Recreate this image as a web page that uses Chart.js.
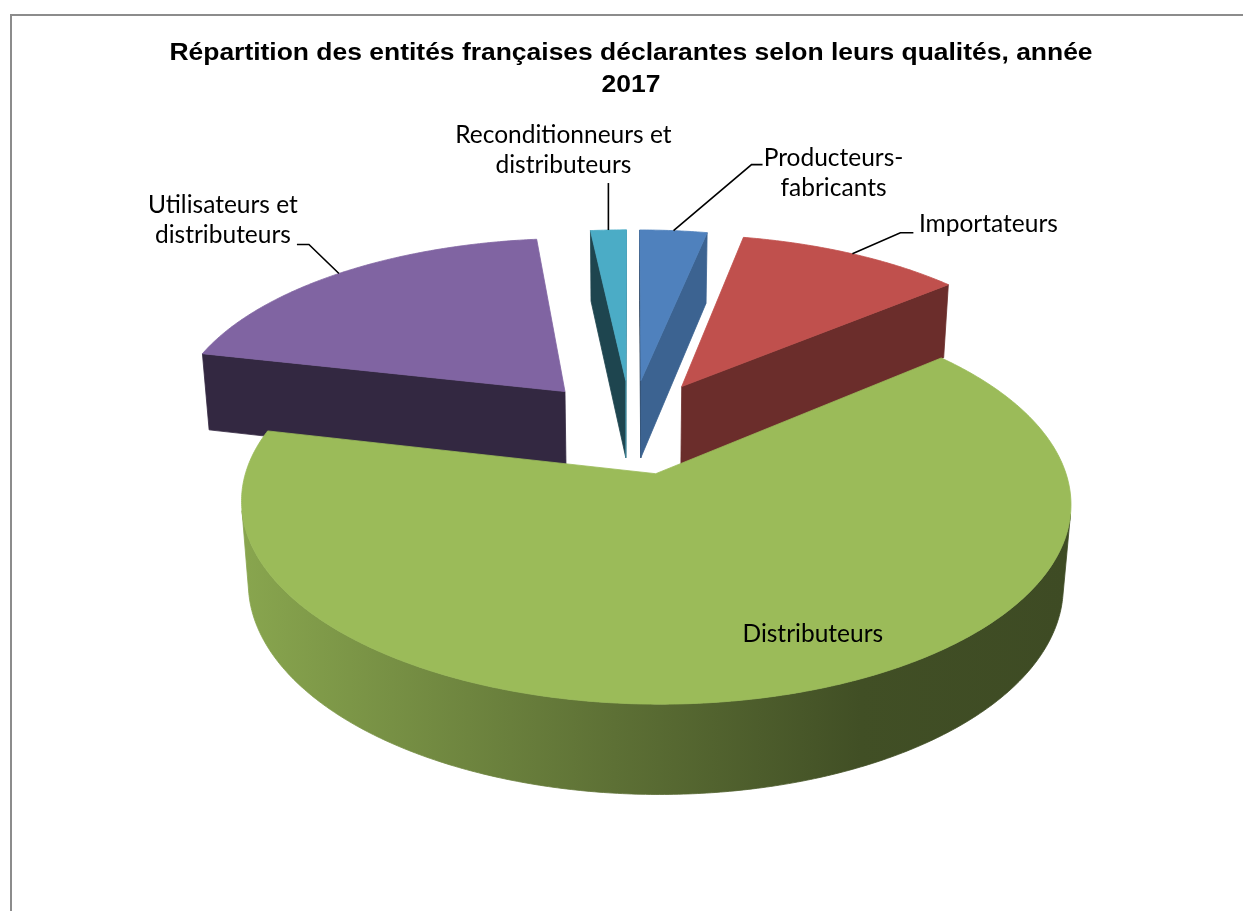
<!DOCTYPE html>
<html lang="fr">
<head>
<meta charset="utf-8">
<script src="https://cdn.jsdelivr.net/npm/chart.js@4.4.1/dist/chart.umd.min.js"></script>
<style>
  html, body { margin: 0; padding: 0; background: #fff; overflow: hidden; }
  #cadre { position: absolute; left: 10px; top: 14px; width: 1260px; height: 920px;
           border-left: 2px solid #8c8c8c; border-top: 2px solid #8c8c8c; }
  #c { position: absolute; left: 0; top: 0; }
</style>
</head>
<body>
<div id="cadre"></div>
<canvas id="c" width="1243" height="911"></canvas>
<script>
// ── Données ──────────────────────────────────────────────────────────
const CATEGORIES = [
  "Producteurs-fabricants",
  "Importateurs",
  "Distributeurs",
  "Utilisateurs et distributeurs",
  "Reconditionneurs et distributeurs",
];
const PARTS = [3.2, 10.7, 64.7, 19.7, 1.7];
const TITRE = [
  "Répartition des entités françaises déclarantes selon leurs qualités, année",
  "2017",
];
const ETIQUETTES = [
  ["Producteurs-", "fabricants"],
  ["Importateurs"],
  ["Distributeurs"],
  ["Utilisateurs et", "distributeurs"],
  ["Reconditionneurs et", "distributeurs"],
];

// ── Style ────────────────────────────────────────────────────────────
const COULEURS = ["#4F81BD", "#C0504D", "#9BBB59", "#8064A2", "#4BACC6"];
// camera for the 3D pie (tilt in degrees, distance / zoom / depth in radii)
const VUE = { tilt: 27.6, dist: 6.33, zoom: 1.419, depth: 0.23 };
// leader line + text centre, relative to the slice's anchor point
const PLACEMENT = [
  { leader: [[78, -66], [89, -66]], text: [160, -58] },
  { leader: [[48, -21], [61, -21]], text: [136, -30] },
  { inside: true, text: [92, 35] },
  { leader: [[-30, -29], [-42, -29]], text: [-116, -53] },
  { leader: [[0, -47]], text: [-45, -80] },
];
const FONTE_ETIQ = "24.5px Lato, 'Open Sans', sans-serif";
const FONTE_TITRE = "bold 23px 'Liberation Sans', Arial, sans-serif";
const TITRE_Y = [54, 86];
const TITRE_ETIRE = 1.15; // the original title is stretched horizontally

function shade(hex, f) {
  const n = parseInt(hex.slice(1), 16);
  const r = Math.round(((n >> 16) & 255) * f);
  const g = Math.round(((n >> 8) & 255) * f);
  const b = Math.round((n & 255) * f);
  return `rgb(${r},${g},${b})`;
}

function camera(arc) {
  const a = (VUE.tilt * Math.PI) / 180;
  const sA = Math.sin(a), cA = Math.cos(a);
  const S = VUE.zoom * arc.outerRadius;
  const proj = (X, Y, Z) => {
    const dn = 1 - (Y * sA + Z * cA) / VUE.dist;
    return [arc.x + (S * X) / dn, arc.y + (S * (Z * sA - Y * cA)) / dn];
  };
  return { proj, eye: [0, VUE.dist * sA, VUE.dist * cA] };
}

function sliceGeom(arc) {
  const s = arc.startAngle, e = arc.endAngle, m = (s + e) / 2;
  const o = (arc.options.offset || 0) / arc.outerRadius;
  return { s, e, m, ox: o * Math.cos(m), oz: o * Math.sin(m) };
}

function poly(ctx, pts, fill) {
  ctx.beginPath();
  pts.forEach(([x, y], i) => (i ? ctx.lineTo(x, y) : ctx.moveTo(x, y)));
  ctx.closePath();
  ctx.fillStyle = fill;
  ctx.strokeStyle = fill;
  ctx.lineWidth = 0.8;
  ctx.fill();
  ctx.stroke();
}

function drawSlice(ctx, cam, sl, color) {
  const { proj, eye } = cam;
  const t = VUE.depth;
  const n = Math.max(2, Math.ceil((sl.e - sl.s) / 0.01));
  const angs = [];
  for (let i = 0; i <= n; i++) angs.push(sl.s + ((sl.e - sl.s) * i) / n);
  const rim = (a, Y) => proj(sl.ox + Math.cos(a), Y, sl.oz + Math.sin(a));
  const apex = (Y) => proj(sl.ox, Y, sl.oz);

  // radial cut faces
  const faces = [
    [sl.s, [Math.sin(sl.s), -Math.cos(sl.s)]],
    [sl.e, [-Math.sin(sl.e), Math.cos(sl.e)]],
  ];
  for (const [a, nr] of faces) {
    const vis = nr[0] * (eye[0] - sl.ox) + nr[1] * (eye[2] - sl.oz);
    if (vis <= 0) continue;
    const f = nr[0] > 0 ? 0.4 + 0.38 * nr[0] * nr[0] : 0.4;
    poly(ctx, [apex(0), rim(a, 0), rim(a, -t), apex(-t)], shade(color, f));
  }

  // outer wall, light on the left, dark on the right
  const xl = rim(Math.PI, 0)[0], xr = rim(0, 0)[0];
  const grad = ctx.createLinearGradient(xl, 0, xr, 0);
  grad.addColorStop(0, shade(color, 0.88));
  grad.addColorStop(0.45, shade(color, 0.6));
  grad.addColorStop(0.75, shade(color, 0.42));
  grad.addColorStop(1, shade(color, 0.4));
  let run = [];
  const flush = () => {
    if (run.length > 1) {
      const pts = run.map((a) => rim(a, 0)).concat(run.slice().reverse().map((a) => rim(a, -t)));
      poly(ctx, pts, grad);
    }
    run = [];
  };
  for (const a of angs) {
    const px = sl.ox + Math.cos(a), pz = sl.oz + Math.sin(a);
    const vis = Math.cos(a) * (eye[0] - px) + Math.sin(a) * (eye[2] - pz) > 0;
    if (vis) run.push(a);
    else flush();
  }
  flush();

  // top face
  poly(ctx, [apex(0), ...angs.map((a) => rim(a, 0))], color);
}

const pie3d = {
  id: "pie3d",
  beforeDatasetsDraw(chart) {
    const ctx = chart.ctx;
    const arcs = chart.getDatasetMeta(0).data;
    const cam = camera(arcs[0]);
    const order = arcs
      .map((arc, i) => ({ i, sl: sliceGeom(arc) }))
      .sort((a, b) => a.sl.oz - b.sl.oz);
    ctx.save();
    order.forEach(({ i, sl }) => drawSlice(ctx, cam, sl, COULEURS[i]));
    ctx.restore();
    return false;
  },
  afterDraw(chart) {
    const ctx = chart.ctx;
    const arcs = chart.getDatasetMeta(0).data;
    const cam = camera(arcs[0]);
    ctx.save();

    // title
    ctx.font = FONTE_TITRE;
    ctx.fillStyle = "#000";
    ctx.textAlign = "center";
    ctx.textBaseline = "middle";
    const tx = (chart.chartArea.left + chart.chartArea.right) / 2;
    TITRE.forEach((l, k) => {
      ctx.save();
      ctx.translate(tx, TITRE_Y[k]);
      ctx.scale(TITRE_ETIRE, 1);
      ctx.fillText(l, 0, 0);
      ctx.restore();
    });

    // data labels
    ctx.font = FONTE_ETIQ;
    ctx.strokeStyle = "#000";
    ctx.lineWidth = 1.6;
    arcs.forEach((arc, i) => {
      const sl = sliceGeom(arc);
      const p = PLACEMENT[i];
      const r = p.inside ? 0.6 : 1;
      const [ax, ay] = cam.proj(sl.ox + r * Math.cos(sl.m), 0, sl.oz + r * Math.sin(sl.m));
      if (p.leader) {
        ctx.beginPath();
        ctx.moveTo(ax, ay);
        p.leader.forEach(([dx, dy]) => ctx.lineTo(ax + dx, ay + dy));
        ctx.stroke();
      }
      const lines = ETIQUETTES[i];
      lines.forEach((l, k) =>
        ctx.fillText(l, ax + p.text[0], ay + p.text[1] + (k - (lines.length - 1) / 2) * 30),
      );
    });
    ctx.restore();
  },
};

new Chart(document.getElementById("c"), {
  type: "pie",
  data: {
    labels: CATEGORIES,
    datasets: [{ data: PARTS, backgroundColor: COULEURS, borderWidth: 0, offset: 72 }],
  },
  options: {
    responsive: false,
    animation: false,
    events: [],
    layout: { padding: { left: 19, right: 0, top: 111, bottom: 170 } },
    plugins: {
      legend: { display: false },
      tooltip: { enabled: false },
      title: { display: false },
    },
  },
  plugins: [pie3d],
});
</script>
</body>
</html>
